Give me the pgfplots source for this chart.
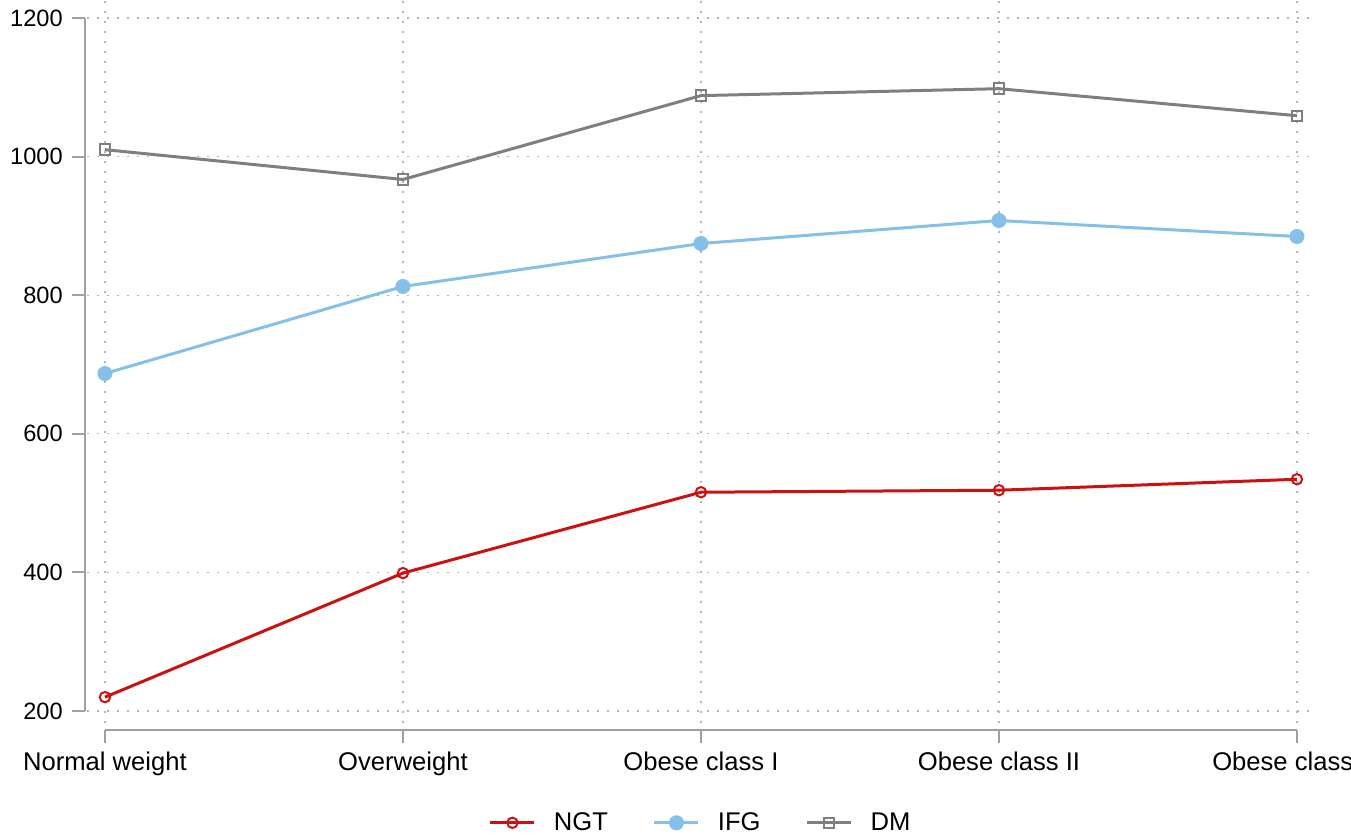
\documentclass[border=0pt]{standalone}
\usepackage{fontspec}
\setmainfont{Liberation Sans}
\usepackage{pgfplots}
\pgfplotsset{compat=1.18}

\definecolor{ngt}{HTML}{CC1111}
\definecolor{ifg}{HTML}{85C0E9}
\definecolor{dm}{HTML}{7F7F7F}
\definecolor{spine}{HTML}{A0A0A0}
\definecolor{gridc}{HTML}{B4B4B4}

\begin{document}
\begin{tikzpicture}
\begin{axis}[
  at={(43.55pt,58.1pt)}, anchor=south west,
  scale only axis,
  width=614.6pt, height=361.4pt,
  xmin=-0.06, xmax=4.065,
  ymin=183, ymax=1226,
  clip=false,
  axis line style={draw=none},
  tick style={draw=none},
  xtick={0,1,2,3,4},
  xticklabels={Normal weight, Overweight, Obese class I, Obese class II, Obese class III},
  ytick={200,400,600,800,1000,1200},
  /pgf/number format/assume math mode=true,
  /pgf/number format/1000 sep={},
  xticklabel style={inner sep=0pt, anchor=north, yshift=-14.5pt, font=\fontsize{12.8}{15}\selectfont},
  yticklabel style={inner sep=0pt, anchor=east, xshift=-12pt, font=\fontsize{11.8}{14}\selectfont},
  xmajorgrids, ymajorgrids,
  grid style={gridc, line width=0.6pt, dash pattern=on 0.7pt off 4.3pt},
  legend columns=3,
  legend style={at={(0.5,0)}, anchor=center, yshift=-50pt, draw=none, fill=none,
    font=\fontsize{12.8}{15}\selectfont,
    /tikz/every odd column/.append style={column sep=7pt},
    /tikz/every even column/.append style={column sep=20.5pt}},
  legend image code/.code={
    \draw[mark repeat=2, mark phase=2, #1] plot coordinates {(0pt,0pt) (11pt,0pt) (22pt,0pt)};
  },
]
% NGT
\addplot[ngt, line width=1.5pt, mark=o, mark size=2.6pt,
  mark options={line width=1pt, fill=white}]
  coordinates {(0,220) (1,399) (2,515.7) (3,518.6) (4,534.4)};
\addlegendentry{NGT}
% IFG
\addplot[ifg, line width=1.5pt, mark=*, mark size=3pt,
  mark options={fill=ifg, draw=ifg}]
  coordinates {(0,687) (1,812.6) (2,874.6) (3,907.8) (4,884.7)};
\addlegendentry{IFG}
% DM
\addplot[dm, line width=1.5pt, mark=square, mark size=2.6pt,
  mark options={line width=1pt, fill=white}]
  coordinates {(0,1010) (1,967) (2,1088) (3,1098) (4,1059)};
\addlegendentry{DM}

% spines that run over the tick range only
\draw[spine, line width=1pt]
  (axis cs:-0.067,200) -- (axis cs:-0.067,1200)
  (axis cs:-0.067,200) -- ([xshift=-6.5pt]axis cs:-0.067,200)
  (axis cs:-0.067,400) -- ([xshift=-6.5pt]axis cs:-0.067,400)
  (axis cs:-0.067,600) -- ([xshift=-6.5pt]axis cs:-0.067,600)
  (axis cs:-0.067,800) -- ([xshift=-6.5pt]axis cs:-0.067,800)
  (axis cs:-0.067,1000) -- ([xshift=-6.5pt]axis cs:-0.067,1000)
  (axis cs:-0.067,1200) -- ([xshift=-6.5pt]axis cs:-0.067,1200);
\draw[spine, line width=1pt]
  (axis cs:0,172.6) -- (axis cs:4,172.6)
  (axis cs:0,172.6) -- ([yshift=-6.5pt]axis cs:0,172.6)
  (axis cs:1,172.6) -- ([yshift=-6.5pt]axis cs:1,172.6)
  (axis cs:2,172.6) -- ([yshift=-6.5pt]axis cs:2,172.6)
  (axis cs:3,172.6) -- ([yshift=-6.5pt]axis cs:3,172.6)
  (axis cs:4,172.6) -- ([yshift=-6.5pt]axis cs:4,172.6);
\end{axis}
\pgfresetboundingbox
\path[use as bounding box] (0,0) rectangle (675.5pt,419.5pt);
\end{tikzpicture}
\end{document}
